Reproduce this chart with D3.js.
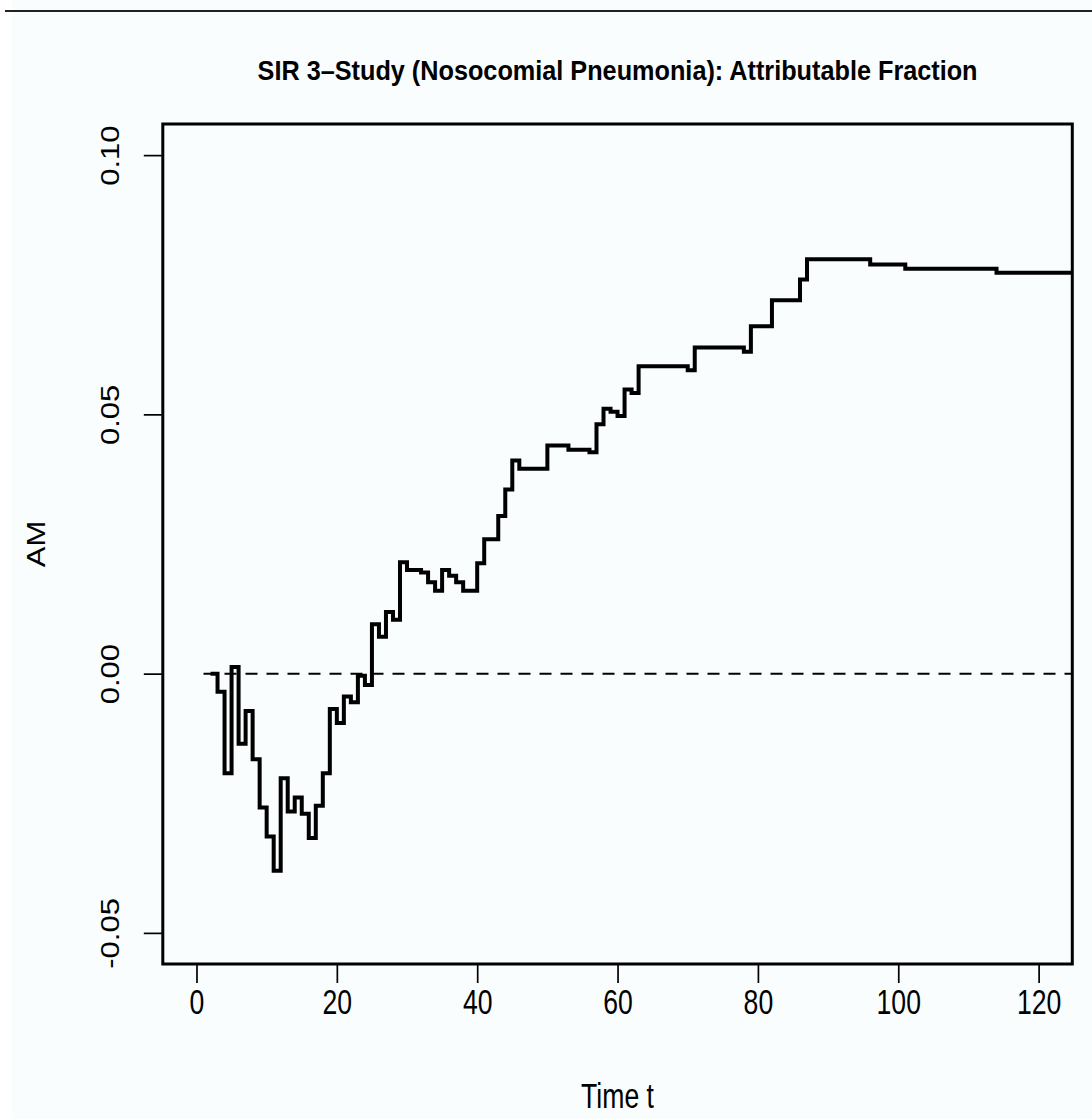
<!DOCTYPE html>
<html>
<head>
<meta charset="utf-8">
<script src="https://cdn.jsdelivr.net/npm/d3@7"></script>
<style>
  html, body { margin: 0; padding: 0; background: #f9fdfd; }
  svg { display: block; }
  text { font-family: "Liberation Sans", Arial, sans-serif; fill: #000; }
</style>
</head>
<body>
<script>
// ---- data ----
const times = [2, 3, 4, 5, 6, 7, 8, 9, 10, 11, 12, 13, 14, 15, 16, 17, 18, 19, 20, 21, 22, 23, 24, 25, 26, 27, 28,
  29, 30, 32, 33, 34, 35, 36, 37, 38, 40, 41, 43, 44, 45, 46, 50, 53, 56, 57, 58, 59, 60, 61, 62, 63,
  70, 71, 78, 79, 82, 86, 87, 96, 101, 114, 130];
const amValues = [0.0, -0.0035, -0.0192, 0.0013, -0.0135, -0.0072, -0.0165, -0.0258, -0.0314, -0.0380, -0.0202,
  -0.0266, -0.0239, -0.0270, -0.0317, -0.0255, -0.0192, -0.0068, -0.0095, -0.0044, -0.0055, -0.0004, -0.0022,
  0.0095, 0.0071, 0.0119, 0.0104,
  0.0215, 0.0200, 0.0195, 0.0176, 0.0160, 0.0200, 0.0189, 0.0176, 0.0160, 0.0213, 0.0259, 0.0304, 0.0355,
  0.0411, 0.0395, 0.0440, 0.0432, 0.0427, 0.0481, 0.0511, 0.0505, 0.0497, 0.0548, 0.0541, 0.0593,
  0.0585, 0.0629, 0.0621, 0.0670, 0.0720, 0.0760, 0.0799, 0.0789, 0.0781, 0.0773, 0.0773];
const refLineT = [1, 130];
const refLineY = [0, 0];
const xTicks = [0, 20, 40, 60, 80, 100, 120];
const yTicks = [-0.05, 0.00, 0.05, 0.10];
const titleText = "SIR 3\u2013Study (Nosocomial Pneumonia): Attributable Fraction";
const xLabel = "Time t";
const yLabel = "AM";

// ---- layout ----
const W = 1092, H = 1119;
const box = { left: 162.8, right: 1072.3, top: 124, bottom: 964 };
const squeeze = 0.76;

const svg = d3.select("body").append("svg").attr("width", W).attr("height", H);
svg.append("rect").attr("width", W).attr("height", H).attr("fill", "#f9fdfd");
svg.append("rect").attr("width", 12).attr("height", H).attr("fill", "#ffffff");
svg.append("line").attr("x1", 5).attr("x2", W).attr("y1", 11).attr("y2", 11)
  .attr("stroke", "#222").attr("stroke-width", 2);

const x = d3.scaleLinear().domain([-4.8, 124.8]).range([box.left, box.right]);
const y = d3.scaleLinear().domain([-0.056, 0.106]).range([box.bottom, box.top]);

svg.append("clipPath").attr("id", "clip").append("rect")
  .attr("x", box.left).attr("y", box.top)
  .attr("width", box.right - box.left).attr("height", box.bottom - box.top);

const plot = svg.append("g").attr("clip-path", "url(#clip)");

// dashed reference line at 0
plot.append("path")
  .attr("d", d3.line().x((d, i) => x(refLineT[i])).y((d, i) => y(refLineY[i]))(refLineT))
  .attr("fill", "none").attr("stroke", "#000").attr("stroke-width", 2)
  .attr("stroke-dasharray", "12,9");

// step curve
const pts = times.map((t, i) => [t, amValues[i]]);
plot.append("path")
  .attr("d", d3.line().x(d => x(d[0])).y(d => y(d[1])).curve(d3.curveStepAfter)(pts))
  .attr("fill", "none").attr("stroke", "#000").attr("stroke-width", 4)
  .attr("stroke-linejoin", "miter").attr("stroke-linecap", "butt");

// box
svg.append("rect")
  .attr("x", box.left).attr("y", box.top)
  .attr("width", box.right - box.left).attr("height", box.bottom - box.top)
  .attr("fill", "none").attr("stroke", "#000").attr("stroke-width", 3);

// x axis
const xAxis = svg.append("g").attr("transform", `translate(0,${box.bottom})`)
  .call(d3.axisBottom(x).tickValues(xTicks).tickSize(19).tickPadding(0).tickFormat(d3.format("d")));
xAxis.select(".domain").remove();
xAxis.selectAll(".tick line").attr("stroke", "#000").attr("stroke-width", 1.7);
xAxis.selectAll(".tick text")
  .attr("y", 50).attr("dy", null)
  .attr("font-size", 35)
  .attr("font-family", '"Liberation Sans", Arial, sans-serif')
  .attr("fill", "#000")
  .attr("transform", `scale(${squeeze},1)`);

// y axis
const yAxis = svg.append("g").attr("transform", `translate(${box.left},0)`)
  .call(d3.axisLeft(y).tickValues(yTicks).tickSize(19).tickFormat(d => d.toFixed(2)));
yAxis.select(".domain").remove();
yAxis.selectAll(".tick line").attr("stroke", "#000").attr("stroke-width", 1.7);
yAxis.selectAll(".tick text")
  .attr("x", 0).attr("y", 0).attr("dy", null)
  .attr("text-anchor", "middle")
  .attr("font-size", 31)
  .attr("font-family", '"Liberation Sans", Arial, sans-serif')
  .attr("fill", "#000")
  .attr("transform", `translate(-44,0) rotate(-90) scale(1,0.86)`);

// title
svg.append("text")
  .attr("x", (box.left + box.right) / 2).attr("y", 80)
  .attr("text-anchor", "middle").attr("font-weight", "bold").attr("font-size", 28)
  .attr("textLength", 720).attr("lengthAdjust", "spacingAndGlyphs")
  .text(titleText);

// x label
svg.append("text")
  .attr("transform", `translate(${(box.left + box.right) / 2},1108) scale(${squeeze},1)`)
  .attr("text-anchor", "middle").attr("font-size", 35)
  .text(xLabel);

// y label
svg.append("text")
  .attr("transform", `translate(45,${(box.top + box.bottom) / 2}) rotate(-90) scale(1,0.86)`)
  .attr("text-anchor", "middle").attr("font-size", 31)
  .text(yLabel);
</script>
</body>
</html>
